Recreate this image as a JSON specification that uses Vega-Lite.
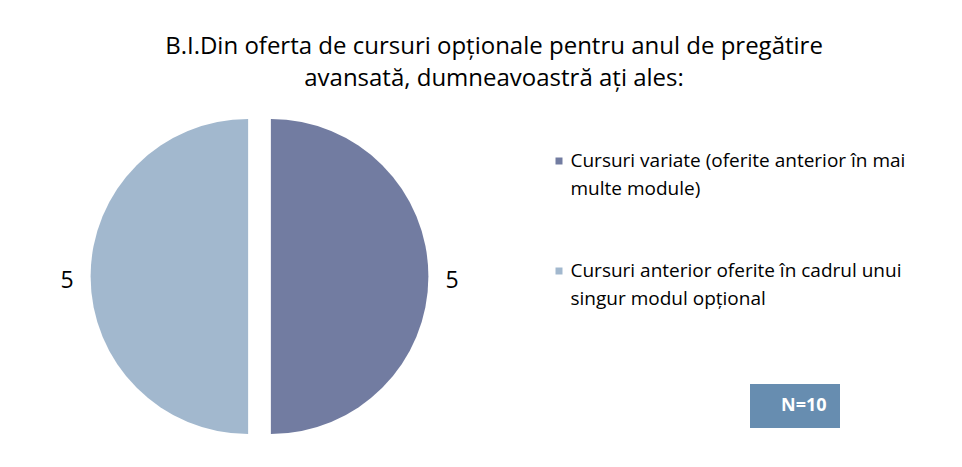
{
  "$schema": "https://vega.github.io/schema/vega-lite/v6.json",
  "autosize": {"type": "none"},
  "padding": {"left": 0, "top": 100, "right": 443, "bottom": 14},
  "width": 519,
  "height": 353,
  "background": "white",
  "config": {"view": {"stroke": null}, "font": "Open Sans"},
  "title": {
    "text": ["B.I.Din oferta de cursuri opționale pentru anul de pregătire", "avansată, dumneavoastră ați ales:"],
    "font": "Open Sans",
    "fontSize": 24,
    "fontWeight": "normal",
    "color": "#000000",
    "anchor": "middle",
    "frame": "group",
    "dx": 234.5,
    "lineHeight": 32,
    "baseline": "alphabetic",
    "offset": -10
  },
  "data": {
    "values": [
      {"categorie": "Cursuri variate (oferite anterior în mai multe module)", "valoare": 5, "n": "N=10"},
      {"categorie": "Cursuri anterior oferite în cadrul unui singur modul opțional", "valoare": 5, "n": "N=10"}
    ]
  },
  "transform": [
    {"stack": "valoare", "groupby": [], "sort": [{"field": "categorie", "order": "descending"}], "as": ["v0", "v1"]}
  ],
  "encoding": {
    "color": {
      "field": "categorie",
      "type": "nominal",
      "scale": {
        "domain": ["Cursuri variate (oferite anterior în mai multe module)", "Cursuri anterior oferite în cadrul unui singur modul opțional"],
        "range": ["#727ca1", "#a2b8ce"]
      },
      "legend": {
        "orient": "none",
        "legendX": 549.5,
        "legendY": 51.5,
        "title": null,
        "symbolType": "square",
        "symbolSize": 49,
        "symbolStrokeWidth": 0,
        "labelFont": "Open Sans",
        "labelFontSize": 19,
        "labelColor": "#000000",
        "labelLimit": 420,
        "labelOffset": 2,
        "labelBaseline": "middle",
        "rowPadding": 62,
        "labelExpr": "datum.label == 'Cursuri variate (oferite anterior în mai multe module)' ? ['Cursuri variate (oferite anterior în mai', 'multe module)'] : ['Cursuri anterior oferite în cadrul unui', 'singur modul opțional']",
        "encoding": {"labels": {"lineHeight": {"value": 28}}}
      }
    }
  },
  "layer": [
    {
      "transform": [{"filter": "datum.categorie == 'Cursuri variate (oferite anterior în mai multe module)'"}],
      "mark": {"type": "arc", "outerRadius": 157.5, "xOffset": 11.4},
      "encoding": {
        "theta": {"field": "v0", "type": "quantitative"},
        "theta2": {"field": "v1"}
      }
    },
    {
      "transform": [{"filter": "datum.categorie != 'Cursuri variate (oferite anterior în mai multe module)'"}],
      "mark": {"type": "arc", "outerRadius": 157.5, "xOffset": -11.4},
      "encoding": {
        "theta": {"field": "v0", "type": "quantitative"},
        "theta2": {"field": "v1"}
      }
    },
    {
      "mark": {"type": "text", "radius": 192.5, "fontSize": 23, "font": "Open Sans", "dy": 4},
      "encoding": {
        "theta": {"field": "valoare", "type": "quantitative", "stack": true},
        "detail": {"field": "categorie", "type": "nominal"},
        "color": {"value": "#000000"},
        "text": {"field": "valoare", "type": "quantitative"},
        "opacity": {
          "field": "n",
          "type": "ordinal",
          "scale": {"range": [1, 1]},
          "legend": {
            "orient": "none",
            "legendX": 750,
            "legendY": 284,
            "title": null,
            "fillColor": "#678db0",
            "padding": 13,
            "symbolSize": 0,
            "symbolOpacity": 0,
            "symbolStrokeWidth": 0,
            "labelOffset": 0,
            "labelFont": "Open Sans",
            "labelFontSize": 18,
            "labelFontWeight": "bold",
            "labelColor": "#ffffff"
          }
        }
      }
    }
  ]
}
